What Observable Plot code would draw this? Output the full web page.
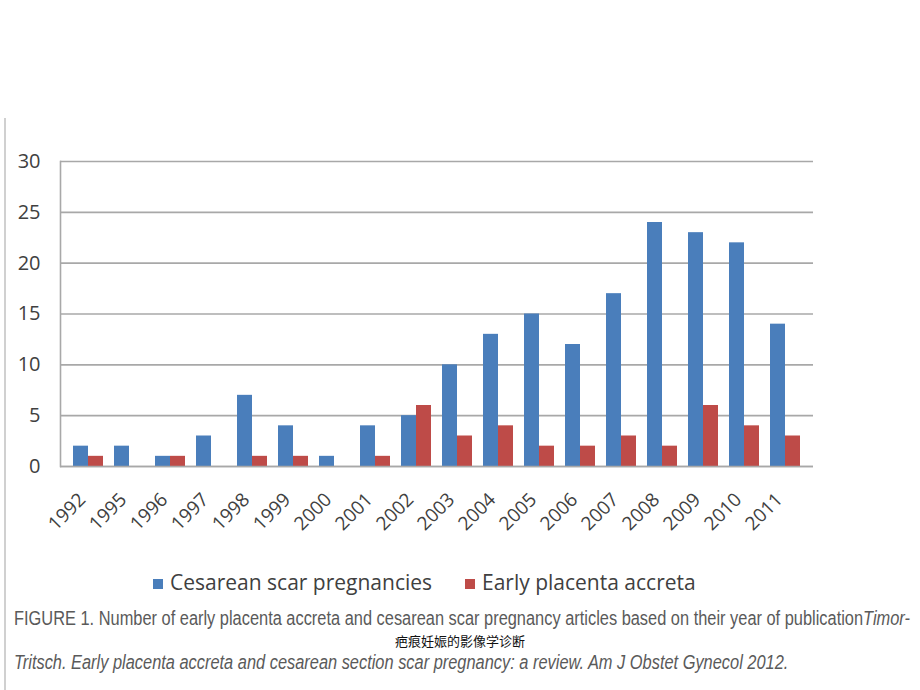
<!DOCTYPE html>
<html>
<head>
<meta charset="utf-8">
<script src="https://cdn.jsdelivr.net/npm/d3@7"></script>
<script src="https://cdn.jsdelivr.net/npm/@observablehq/plot@0.6"></script>
<style>
  html, body { margin: 0; padding: 0; background: #fff; }
  #page { position: relative; width: 920px; height: 690px; overflow: hidden; background: #fff; }
  #border { position: absolute; left: 4px; top: 118px; width: 2px; height: 572px; background: #d0d0d0; z-index: 5; }
  #chart { position: absolute; left: 0; top: 120px; }
  #legend { position: absolute; top: 568px; left: 0; width: 920px; font-family: "Open Sans", sans-serif; font-size: 21px; color: #404040; }
  .lg { position: absolute; top: 0; white-space: nowrap; }
  .sw { display: inline-block; width: 10px; height: 10px; margin-right: 7px; vertical-align: 1px; }
  .cap { position: absolute; left: 14px; white-space: nowrap; font-family: "Liberation Sans", Arial, sans-serif; font-size: 20px; line-height: 19px; color: #5a5a5a; transform-origin: 0 0; }
  #zh { position: absolute; top: 634px; left: 0; width: 920px; text-align: center; font-family: "Noto Sans CJK SC", sans-serif; font-size: 13px; line-height: 13px; color: #111; }
</style>
</head>
<body>
<div id="page">
  <div id="chart"></div>
  <div id="border"></div>
  <div id="legend"></div>
  <div class="cap" id="cap1" style="top:609px"></div>
  <div class="cap" id="cap2" style="top:653px; font-style:italic"></div>
  <div id="zh">疤痕妊娠的影像学诊断</div>
</div>
<script>
const years = ["1992","1995","1996","1997","1998","1999","2000","2001","2002","2003","2004","2005","2006","2007","2008","2009","2010","2011"];
const cesarean = [2,2,1,3,7,4,1,4,5,10,13,15,12,17,24,23,22,14];
const placenta = [1,0,1,0,1,1,0,1,6,3,4,2,2,3,2,6,4,3];
const yTicks = [0,5,10,15,20,25,30];
const seriesNames = ["Cesarean scar pregnancies", "Early placenta accreta"];
const colors = ["#4a7ebb", "#be4b48"];

const rows = years.map((y, i) => ({year: y, ces: cesarean[i], pla: placenta[i]}));

const chart = Plot.plot({
  width: 920,
  height: 430,
  marginTop: 41,
  marginBottom: 84,
  marginLeft: 60,
  marginRight: 107,
  style: {fontFamily: "'Open Sans', sans-serif", color: "#404040", background: "transparent"},
  x: {type: "band", domain: years, paddingInner: 0.28, paddingOuter: 0.14, label: null},
  y: {domain: [0, 30], ticks: yTicks, label: null},
  marks: [
    Plot.ruleY(yTicks, {stroke: "#a8a8a8", strokeWidth: 1.6}),
    Plot.barY(rows, {x: "year", y: "ces", fill: colors[0], insetRight: 15}),
    Plot.barY(rows, {x: "year", y: "pla", fill: colors[1], insetLeft: 15}),
    Plot.ruleY([0], {stroke: "#a8a8a8", strokeWidth: 1.6}),
    Plot.frame({anchor: "left", stroke: "#a8a8a8", strokeWidth: 1.6}),
    Plot.axisY({ticks: yTicks, tickSize: 0, tickPadding: 20, fontSize: 20, fill: "#404040"}),
    Plot.axisX({tickSize: 0, tickRotate: -45, tickPadding: 30, fontSize: 19, dx: -6, fill: "#404040"})
  ]
});
document.getElementById("chart").appendChild(chart);

const legend = document.getElementById("legend");
const lx = [153, 465];
seriesNames.forEach((n, i) => {
  const d = document.createElement("div");
  d.className = "lg";
  d.style.left = lx[i] + "px";
  d.innerHTML = `<span class="sw" style="background:${colors[i]}"></span>${n}`;
  legend.appendChild(d);
});

const cap1 = document.getElementById("cap1");
const cap2 = document.getElementById("cap2");
cap1.innerHTML = 'FIGURE 1. Number of early placenta accreta and cesarean scar pregnancy articles based on their year of publication<i>Timor-</i>';
cap2.textContent = 'Tritsch. Early placenta accreta and cesarean section scar pregnancy: a review. Am J Obstet Gynecol 2012.';
const w1 = cap1.getBoundingClientRect().width;
const s = 896 / w1;
cap1.style.transform = `scaleX(${s})`;
cap2.style.transform = `scaleX(${s})`;
</script>
</body>
</html>
